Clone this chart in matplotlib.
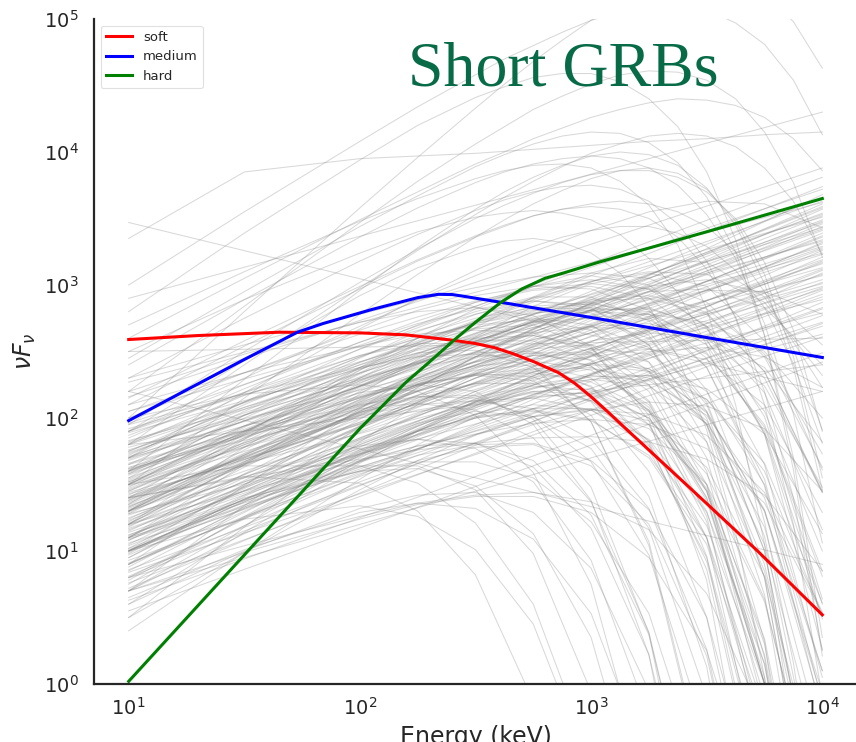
import numpy as np
import matplotlib
matplotlib.use('Agg')
import matplotlib.pyplot as plt

# log10(E/keV) and log10(nuFnu) for the three highlighted spectra
soft_logE = [1.0, 1.3, 1.65, 2.0, 2.2, 2.4, 2.5, 2.58, 2.66, 2.75, 2.86, 2.93, 3.0, 3.07, 3.15, 3.43, 3.72, 4.0]
soft_logF = [2.59, 2.62, 2.645, 2.64, 2.625, 2.585, 2.56, 2.53, 2.485, 2.425, 2.34, 2.26, 2.16, 2.05, 1.92, 1.47, 1.0, 0.52]

medium_logE = [1.0, 1.26, 1.5, 1.73, 1.84, 1.94, 2.05, 2.15, 2.25, 2.34, 2.4, 2.45, 2.52, 2.61, 3.03, 3.5, 4.0]
medium_logF = [1.98, 2.22, 2.44, 2.645, 2.71, 2.76, 2.815, 2.86, 2.905, 2.93, 2.928, 2.915, 2.895, 2.87, 2.747, 2.605, 2.455]

hard_logE = [1.0, 1.5, 2.0, 2.2, 2.3, 2.41, 2.5, 2.61, 2.7, 2.8, 2.88, 3.03, 3.5, 4.0]
hard_logF = [0.02, 0.97, 1.92, 2.27, 2.42, 2.59, 2.72, 2.87, 2.97, 3.05, 3.09, 3.17, 3.40, 3.65]

# background sample: straight power laws, log10 flux at 10 keV and at 10 MeV
pl_start = [1.23, 1.47, 1.02, 1.81, 1.34, 0.93, 1.58, 1.41, 1.12, 1.96,
            1.68, 0.84, 1.52, 1.29, 1.87, 1.17, 0.63, 1.38, 1.61, 1.04,
            2.16, 1.09, 1.49, 1.76, 0.72, 1.33, 1.66, 1.21, 1.43, 0.97,
            1.57, 1.92, 1.06, 1.54, 1.27, 1.74, 0.55, 1.19, 1.71, 1.36,
            1.14, 1.83, 1.31, 1.63, 0.81, 1.46, 2.27, 1.01, 1.39, 1.24,
            1.69, 0.91, 1.51, 1.28, 1.08, 1.78, 1.59, 0.76, 1.44, 2.05,
            1.16, 1.53, 0.99, 1.32, 1.89, 1.62, 0.86, 1.37, 1.73, 1.11,
            3.47, 2.5, 0.7, 1.8, 2.2, 2.9]
pl_end = [3.31, 3.52, 2.98, 3.63, 3.19, 2.82, 3.41, 3.08, 2.93, 3.72,
          3.47, 2.61, 3.28, 3.57, 3.81, 3.02, 2.49, 3.36, 3.23, 3.11,
          3.88, 2.72, 3.04, 3.34, 2.87, 3.46, 3.13, 3.39, 2.79, 3.21,
          3.58, 3.43, 2.69, 3.66, 2.97, 3.53, 2.42, 3.17, 3.29, 3.61,
          2.91, 3.24, 3.37, 3.01, 3.09, 3.49, 3.62, 2.83, 3.27, 3.68,
          3.42, 2.96, 3.16, 2.63, 3.32, 3.07, 3.54, 2.71, 2.99, 3.51,
          3.12, 3.59, 3.26, 3.44, 3.33, 2.89, 2.77, 3.48, 3.74, 3.18,
          2.2, 2.6, 2.2, 2.4, 0.9, 4.3]

# background sample: curved spectra, log10 flux on a fixed log10(E) grid
curve_logE = [1.0, 1.5, 2.0, 2.25, 2.5, 2.75, 3.0, 3.25, 3.5, 3.75, 4.0]
curves = [
    [1.2, 1.52, 1.77, 1.84, 1.81, 1.63, 1.17, 0.22, -1.6],
    [1.5, 1.78, 2.02, 2.1, 2.13, 2.07, 1.84, 1.32, 0.26, -1.72],
    [1.0, 1.39, 1.74, 1.9, 2.01, 2.06, 1.99, 1.7, 1.05, -0.28],
    [1.7, 1.94, 2.16, 2.26, 2.32, 2.34, 2.27, 2.06, 1.58, 0.64, -1.14],
    [0.8, 1.24, 1.67, 1.88, 2.06, 2.22, 2.31, 2.32, 2.14, 1.66, 0.61],
    [1.4, 1.78, 2.13, 2.3, 2.46, 2.59, 2.69, 2.71, 2.6, 2.24, 1.48],
    [2.0, 2.18, 2.25, 2.2, 2.02, 1.59, 0.75, -0.83],
    [1.1, 1.58, 2.02, 2.2, 2.33, 2.37, 2.24, 1.82, 0.86, -1.02],
    [0.6, 1.14, 1.66, 1.9, 2.12, 2.29, 2.37, 2.3, 1.98, 1.18, -0.44],
    [1.3, 1.72, 2.14, 2.34, 2.54, 2.71, 2.86, 2.95, 2.97, 2.83, 2.4],
    [1.6, 1.94, 2.24, 2.38, 2.46, 2.49, 2.39, 2.08, 1.4, 0.05, -2.5],
    [0.9, 1.32, 1.67, 1.79, 1.81, 1.68, 1.27, 0.37, -1.41],
    [1.9, 2.19, 2.47, 2.6, 2.71, 2.79, 2.81, 2.74, 2.49, 1.93, 0.81],
    [1.2, 1.78, 2.3, 2.52, 2.67, 2.7, 2.53, 1.98, 0.78, -1.6],
    [2.3, 2.55, 2.78, 2.89, 2.98, 3.06, 3.09, 3.05, 2.87, 2.46, 1.63],
    [0.5, 0.99, 1.46, 1.68, 1.87, 2.01, 2.07, 1.98, 1.63, 0.81, -0.84],
    [1.5, 1.94, 2.36, 2.56, 2.72, 2.84, 2.87, 2.76, 2.38, 1.54, -0.14],
    [1.0, 1.24, 1.34, 1.26, 1.01, 0.45, -0.66],
    [1.8, 2.17, 2.47, 2.56, 2.56, 2.4, 1.97, 1.04, -0.76],
    [1.3, 1.6, 1.89, 2.04, 2.17, 2.3, 2.41, 2.5, 2.53, 2.46, 2.23],
    [0.7, 1.34, 1.94, 2.23, 2.46, 2.64, 2.69, 2.53, 2.0, 0.8, -1.6],
    [1.4, 1.56, 1.51, 1.3, 0.82, -0.13],
    [1.1, 1.4, 1.6, 1.62, 1.49, 1.13, 0.35, -1.17],
    [0.9, 1.3, 1.68, 1.86, 2.03, 2.18, 2.29, 2.32, 2.22, 1.88, 1.13],
    [1.7, 2.02, 2.29, 2.41, 2.49, 2.5, 2.39, 2.06, 1.38, 0.01, -2.55],
    [1.2, 1.67, 2.12, 2.34, 2.54, 2.7, 2.81, 2.83, 2.67, 2.19, 1.16],
    [0.7, 1.13, 1.52, 1.68, 1.78, 1.8, 1.64, 1.2, 0.21, -1.7],
    [1.5, 1.9, 2.28, 2.46, 2.63, 2.78, 2.89, 2.92, 2.82, 2.48, 1.73],
    [1.0, 1.37, 1.71, 1.87, 2.0, 2.07, 2.07, 1.92, 1.5, 0.62, -1.09],
    [1.3, 1.64, 1.97, 2.13, 2.26, 2.37, 2.41, 2.37, 2.14, 1.6, 0.51],
    [1.8, 2.08, 2.34, 2.47, 2.59, 2.68, 2.76, 2.78, 2.72, 2.5, 2.0],
    [0.4, 0.99, 1.54, 1.8, 2.01, 2.16, 2.19, 2.0, 1.45, 0.22, -2.2],
    [1.6, 2.02, 2.37, 2.49, 2.51, 2.38, 1.97, 1.07, -0.71],
    [0.8, 1.15, 1.49, 1.66, 1.81, 1.95, 2.06, 2.12, 2.09, 1.92, 1.45],
    [2.0, 2.34, 2.66, 2.81, 2.92, 2.99, 2.97, 2.81, 2.38, 1.49, -0.24],
    [1.1, 1.65, 2.18, 2.44, 2.68, 2.91, 3.09, 3.2, 3.17, 2.91, 2.23],
    [1.4, 1.89, 2.34, 2.55, 2.71, 2.81, 2.79, 2.55, 1.95, 0.67, -1.8],
    [0.6, 1.0, 1.32, 1.42, 1.44, 1.29, 0.87, -0.05],
    [1.0, 1.5, 1.99, 2.23, 2.46, 2.67, 2.86, 2.99, 3.04, 2.94, 2.55],
    [2.2, 2.48, 2.72, 2.8, 2.83, 2.77, 2.54, 2.02, 0.96, -1.02],
    [1.2, 1.45, 1.68, 1.79, 1.88, 1.96, 1.99, 1.95, 1.77, 1.36, 0.53],
    [0.9, 1.49, 2.07, 2.35, 2.61, 2.84, 3.01, 3.09, 2.99, 2.58, 1.61],
    [1.5, 1.64, 1.64, 1.51, 1.21, 0.6, -0.56],
    [1.9, 2.3, 2.69, 2.89, 3.07, 3.25, 3.41, 3.55, 3.63, 3.61, 3.43],
    [1.3, 1.84, 2.36, 2.6, 2.82, 2.99, 3.07, 3.0, 2.68, 1.88, 0.26],
    [0.5, 1.18, 1.82, 2.1, 2.33, 2.47, 2.44, 2.12, 1.26, -0.52],
    [1.6, 1.87, 2.07, 2.11, 2.06, 1.85, 1.37, 0.39, -1.46],
    [1.1, 1.53, 1.94, 2.15, 2.35, 2.54, 2.71, 2.86, 2.96, 2.95, 2.78],
    [1.4, 1.55, 1.69, 1.76, 1.81, 1.85, 1.86, 1.82, 1.69, 1.42, 0.85],
    [0.8, 1.04, 1.26, 1.36, 1.42, 1.44, 1.37, 1.16, 0.68, -0.27],
    [1.0, 1.39, 1.64, 1.64, 1.46, 0.98, -0.06],
    [0.7, 0.99, 1.24, 1.35, 1.41, 1.41, 1.29, 0.95, 0.25, -1.13],
    [2.1, 2.34, 2.54, 2.63, 2.66, 2.64, 2.49, 2.13, 1.4, 0.0, -2.6],
    [3.35, 3.85, 3.95, 3.97, 3.99, 4.02, 4.05, 4.08, 4.1, 4.13, 4.15],
    [1.35, 1.71, 2.03, 2.17, 2.26, 2.26, 2.13, 1.76, 0.95, -0.65],
    [1.05, 1.47, 1.85, 2.02, 2.16, 2.24, 2.21, 2.0, 1.47, 0.34, -1.8],
    [1.55, 1.87, 2.17, 2.3, 2.42, 2.49, 2.49, 2.37, 2.04, 1.31, -0.11],
    [0.95, 1.41, 1.8, 1.96, 2.05, 2.01, 1.77, 1.17, -0.1],
    [1.45, 1.84, 2.23, 2.41, 2.58, 2.72, 2.81, 2.82, 2.69, 2.3, 1.44],
    [1.25, 1.56, 1.79, 1.84, 1.77, 1.52, 0.93, -0.25],
    [1.75, 2.08, 2.38, 2.51, 2.58, 2.58, 2.43, 2.05, 1.22, -0.39],
    [0.85, 1.29, 1.72, 1.92, 2.09, 2.23, 2.29, 2.24, 1.96, 1.3, -0.06],
    [1.15, 1.55, 1.93, 2.12, 2.3, 2.45, 2.58, 2.64, 2.6, 2.38, 1.82],
    [1.65, 1.9, 2.1, 2.16, 2.15, 2.01, 1.67, 0.97, -0.4],
    [0.75, 1.26, 1.73, 1.94, 2.1, 2.19, 2.13, 1.83, 1.1, -0.42],
    [1.85, 2.22, 2.57, 2.73, 2.87, 2.96, 2.99, 2.9, 2.59, 1.88, 0.49],
    [1.3, 1.73, 2.1, 2.25, 2.32, 2.28, 2.02, 1.41, 0.13, -2.3],
    [1.0, 1.32, 1.63, 1.77, 1.9, 2.01, 2.06, 2.03, 1.87, 1.44, 0.54],
    [1.55, 2.02, 2.45, 2.65, 2.8, 2.91, 2.91, 2.73, 2.21, 1.11, -1.0],
    [0.65, 1.01, 1.29, 1.36, 1.32, 1.09, 0.53, -0.62],
    [1.4, 1.69, 1.95, 2.06, 2.13, 2.15, 2.06, 1.79, 1.19, 0.0, -2.2],
    [2.05, 2.34, 2.63, 2.76, 2.88, 2.97, 3.01, 2.97, 2.79, 2.35, 1.44],
    [1.2, 1.66, 2.04, 2.16, 2.17, 1.99, 1.48, 0.38, -1.77],
    [0.9, 1.26, 1.58, 1.72, 1.8, 1.81, 1.68, 1.31, 0.5, -1.1],
    [1.5, 1.93, 2.33, 2.53, 2.73, 2.89, 3.03, 3.1, 3.08, 2.87, 2.32],
    [1.1, 1.38, 1.6, 1.67, 1.67, 1.55, 1.22, 0.53, -0.82],
    [1.7, 2.12, 2.52, 2.7, 2.87, 2.99, 3.04, 2.97, 2.69, 2.01, 0.64],
    [0.7, 1.19, 1.68, 1.91, 2.13, 2.32, 2.46, 2.52, 2.44, 2.1, 1.29],
    [1.95, 2.18, 2.38, 2.46, 2.48, 2.43, 2.23, 1.8, 0.92, -0.73],
    [1.35, 1.88, 2.38, 2.6, 2.78, 2.88, 2.83, 2.55, 1.82, 0.32, -2.6],
    [1.0, 1.39, 1.75, 1.91, 2.03, 2.1, 2.06, 1.84, 1.29, 0.15, -2.0],
    [1.6, 1.94, 2.19, 2.25, 2.2, 1.95, 1.38, 0.22, -2.0],
    [1.45, 1.8, 2.12, 2.25, 2.33, 2.31, 2.12, 1.6, 0.5, -1.5],
    [0.95, 1.38, 1.78, 1.96, 2.11, 2.2, 2.18, 1.95, 1.3, -0.1],
    [1.62, 1.98, 2.31, 2.46, 2.57, 2.62, 2.55, 2.25, 1.5, -0.2],
    [1.28, 1.7, 2.08, 2.24, 2.36, 2.4, 2.3, 1.95, 1.1, -0.8],
    [1.82, 2.12, 2.4, 2.52, 2.6, 2.62, 2.52, 2.2, 1.45, 0.0, -2.5],
    [1.08, 1.5, 1.9, 2.08, 2.24, 2.35, 2.38, 2.25, 1.82, 0.85, -1.2],
    [1.38, 1.82, 2.24, 2.43, 2.6, 2.72, 2.75, 2.6, 2.1, 1.0, -1.2],
    [0.78, 1.25, 1.7, 1.9, 2.08, 2.2, 2.22, 2.05, 1.5, 0.3, -2.0],
    [1.52, 1.85, 2.16, 2.29, 2.39, 2.43, 2.36, 2.1, 1.45, 0.15, -2.3],
    [1.18, 1.63, 2.05, 2.24, 2.4, 2.52, 2.55, 2.42, 1.95, 0.9, -1.1],
    [1.72, 2.1, 2.46, 2.62, 2.75, 2.83, 2.82, 2.62, 2.05, 0.8, -1.6],
    [0.98, 1.42, 1.84, 2.03, 2.2, 2.33, 2.4, 2.35, 2.05, 1.3, -0.2],
    [1.33, 1.72, 2.09, 2.25, 2.38, 2.47, 2.48, 2.35, 1.95, 1.05, -0.6],
    [1.58, 2.0, 2.38, 2.55, 2.68, 2.75, 2.7, 2.42, 1.7, 0.2, -2.6],
    [1.12, 1.45, 1.76, 1.9, 2.0, 2.05, 1.98, 1.72, 1.1, -0.2],
    [1.9, 2.25, 2.57, 2.71, 2.82, 2.88, 2.85, 2.65, 2.12, 1.0, -1.2],
    [0.88, 1.33, 1.76, 1.95, 2.12, 2.25, 2.32, 2.28, 2.02, 1.4, 0.1],
    [1.42, 1.85, 2.26, 2.45, 2.62, 2.76, 2.83, 2.8, 2.55, 1.9, 0.6],
    [1.65, 2.05, 2.42, 2.58, 2.72, 2.82, 2.86, 2.78, 2.45, 1.65, 0.05],
    [1.22, 1.66, 2.08, 2.27, 2.45, 2.59, 2.68, 2.67, 2.48, 1.95, 0.85],
    [1.48, 1.9, 2.3, 2.48, 2.64, 2.78, 2.88, 2.9, 2.78, 2.35, 1.45],
    [1.02, 1.48, 1.92, 2.12, 2.3, 2.44, 2.52, 2.48, 2.2, 1.5, 0.1],
    [1.75, 2.12, 2.46, 2.6, 2.7, 2.74, 2.66, 2.35, 1.6, 0.0],
    [1.3, 1.76, 2.2, 2.4, 2.58, 2.72, 2.8, 2.78, 2.58, 2.05, 1.0],
]

# bright, high-peaked spectra, read on a finer log10(E) grid
arc_logE = [1.0, 1.5, 2.0, 2.25, 2.5, 2.625, 2.75, 2.875, 3.0, 3.125, 3.25, 3.375, 3.5, 3.625, 3.75, 3.875, 4.0]
arcs = [
    [2.1, 2.54, 2.97, 3.18, 3.36, 3.44, 3.52, 3.57, 3.61, 3.63, 3.61, 3.55, 3.44, 3.25, 2.95, 2.52, 1.91],
    [2.4, 2.89, 3.36, 3.58, 3.77, 3.85, 3.91, 3.95, 3.97, 3.95, 3.88, 3.75, 3.53, 3.2, 2.71, 2.03, 1.06],
    [2.8, 3.39, 3.94, 4.2, 4.41, 4.49, 4.56, 4.59, 4.59, 4.53, 4.4, 4.19, 3.85, 3.34, 2.62, 1.61, 0.21],
    [3.0, 3.55, 4.08, 4.34, 4.58, 4.7, 4.8, 4.9, 4.99, 5.05, 5.09, 5.1, 5.07, 4.97, 4.81, 4.54, 4.13],
    [2.2, 2.84, 3.47, 3.78, 4.06, 4.19, 4.32, 4.42, 4.51, 4.58, 4.61, 4.6, 4.54, 4.4, 4.15, 3.77, 3.21],
    [1.6, 2.29, 2.96, 3.28, 3.57, 3.7, 3.81, 3.9, 3.97, 4.0, 3.98, 3.9, 3.73, 3.45, 3.01, 2.38, 1.46],
    [2.6, 3.05, 3.49, 3.7, 3.91, 4.0, 4.1, 4.18, 4.26, 4.32, 4.37, 4.4, 4.39, 4.35, 4.26, 4.1, 3.86],
    [2.0, 2.8, 3.58, 3.96, 4.33, 4.51, 4.68, 4.84, 4.99, 5.11, 5.22, 5.29, 5.32, 5.29, 5.18, 4.98, 4.63],
    [1.8, 2.4, 2.98, 3.26, 3.53, 3.66, 3.78, 3.89, 3.99, 4.06, 4.12, 4.14, 4.12, 4.04, 3.88, 3.63, 3.23],
    [1.9, 2.43, 2.92, 3.13, 3.28, 3.33, 3.35, 3.32, 3.24, 3.09, 2.84, 2.46, 1.91, 1.14, 0.05, -1.44],
    [2.5, 2.89, 3.24, 3.4, 3.51, 3.54, 3.56, 3.54, 3.49, 3.38, 3.2, 2.94, 2.55, 1.99, 1.22, 0.16, -1.29],
    [1.7, 2.19, 2.67, 2.9, 3.11, 3.21, 3.29, 3.36, 3.41, 3.44, 3.44, 3.39, 3.29, 3.11, 2.83, 2.41, 1.81],
    [2.3, 2.75, 3.18, 3.38, 3.56, 3.64, 3.7, 3.74, 3.75, 3.72, 3.63, 3.46, 3.18, 2.75, 2.1, 1.2, -0.1],
    [1.95, 2.5, 3.02, 3.27, 3.5, 3.6, 3.69, 3.77, 3.83, 3.86, 3.86, 3.81, 3.7, 3.5, 3.17, 2.66, 1.9],
    [2.7, 3.1, 3.48, 3.65, 3.8, 3.86, 3.9, 3.91, 3.88, 3.78, 3.6, 3.3, 2.82, 2.1, 1.05, -0.4],
    [1.5, 2.15, 2.78, 3.08, 3.36, 3.49, 3.61, 3.71, 3.8, 3.86, 3.88, 3.84, 3.72, 3.48, 3.08, 2.46, 1.55],
    [2.45, 2.95, 3.44, 3.67, 3.89, 3.98, 4.06, 4.12, 4.15, 4.14, 4.07, 3.92, 3.66, 3.25, 2.62, 1.7, 0.35],
    [2.15, 2.58, 2.99, 3.19, 3.37, 3.45, 3.52, 3.57, 3.59, 3.57, 3.5, 3.36, 3.12, 2.76, 2.2, 1.4, 0.25],
]

ink = '#262626'
plt.rcParams['font.family'] = 'DejaVu Sans'
plt.rcParams['text.color'] = ink
plt.rcParams['axes.labelcolor'] = ink
plt.rcParams['xtick.color'] = ink
plt.rcParams['ytick.color'] = ink

fig = plt.figure(figsize=(8.56, 7.42), dpi=100)
ax = fig.add_axes([94 / 856, 58 / 742, 763 / 856, 665 / 742])

# grey background spectra
grey = dict(color='grey', alpha=0.3, lw=0.75)
for s, e in zip(pl_start, pl_end):
    ax.plot([10, 1e4], [10 ** s, 10 ** e], **grey)
G = np.array(curve_logE)
for row in curves:
    ax.plot(10 ** G[:len(row)], 10 ** np.array(row), **grey)
A = np.array(arc_logE)
for row in arcs:
    ax.plot(10 ** A[:len(row)], 10 ** np.array(row), **grey)

ax.plot(10 ** np.array(soft_logE), 10 ** np.array(soft_logF), color='red', lw=2.2, label='soft')
ax.plot(10 ** np.array(medium_logE), 10 ** np.array(medium_logF), color='blue', lw=2.2, label='medium')
ax.plot(10 ** np.array(hard_logE), 10 ** np.array(hard_logF), color='green', lw=2.2, label='hard')

ax.set_xscale('log')
ax.set_yscale('log')
ax.set_xlim(10 ** 0.85, 10 ** 4.15)
ax.set_ylim(1, 1e5)
ax.set_xticks([10, 100, 1000, 10000])
ax.set_yticks([1, 10, 100, 1000, 10000, 100000])
ax.minorticks_off()
ax.tick_params(axis='both', length=0, labelsize=14)
ax.tick_params(axis='y', pad=11)
ax.tick_params(axis='x', pad=9)

for side in ['top', 'right']:
    ax.spines[side].set_visible(False)
for side in ['left', 'bottom']:
    ax.spines[side].set_color(ink)
    ax.spines[side].set_linewidth(1.6)

ax.set_xlabel('Energy (keV)', fontsize=17)
ax.xaxis.set_label_coords(0.5, -0.062)
ax.xaxis.label.set_va('top')
ax.set_ylabel(r'$\nu F_\nu$', fontsize=17)
ax.yaxis.set_label_coords(-0.073, 0.5)

leg = ax.legend(loc='upper left', fontsize=9.5, frameon=True, fancybox=True)
leg.get_frame().set_edgecolor('#d9d9d9')
leg.get_frame().set_linewidth(0.8)

fig.text(408 / 856, 1 - 85 / 742, 'Short GRBs', ha='left', va='baseline',
         fontfamily='Liberation Serif', fontsize=46, color='#076b47')

fig.savefig('out.png', dpi=100)
